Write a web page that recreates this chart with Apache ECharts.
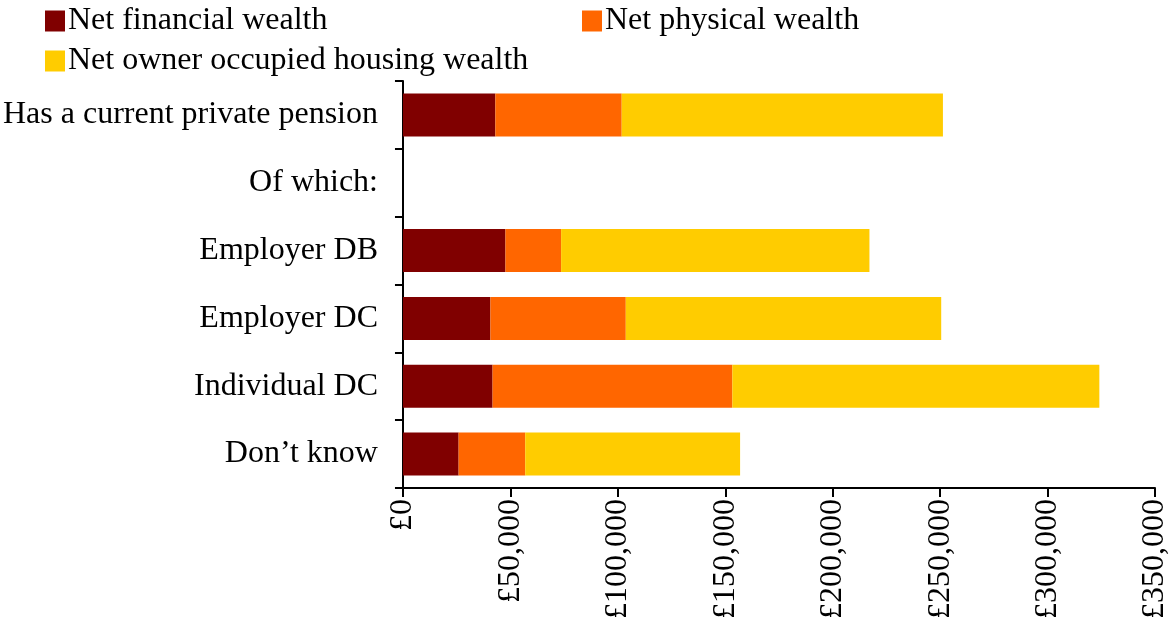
<!DOCTYPE html>
<html>
<head>
<meta charset="utf-8">
<script src="https://cdn.jsdelivr.net/npm/echarts@6/dist/echarts.min.js"></script>
<style>
html, body { margin: 0; padding: 0; background: #fff; }
#chart { width: 1171px; height: 635px; }
</style>
</head>
<body>
<div id="chart"></div>
<script>
"use strict";

var categories = ["Has a current private pension", "Of which:", "Employer DB", "Employer DC", "Individual DC", "Don\u2019t know"];
var financial = [43000, null, 47700, 40700, 41700, 25900];
var physical = [58800, null, 25900, 63000, 111600, 31000];
var housing = [149500, null, 143500, 146800, 170800, 100000];
var seriesNames = ["Net financial wealth", "Net physical wealth", "Net owner occupied housing wealth"];
var colors = ["#800000", "#FF6600", "#FFCC00"];

var font = "'Liberation Serif', 'Times New Roman', serif";
var chart = echarts.init(document.getElementById("chart"));

function fmt(v) {
    return "£" + String(v).replace(/\B(?=(\d{3})+(?!\d))/g, ",");
}

function legendAt(i, left, top) {
    return {
        data: [seriesNames[i]],
        left: left,
        top: top,
        itemWidth: 20,
        itemHeight: 21,
        itemGap: 0,
        icon: "rect",
        textStyle: { fontFamily: font, fontSize: 32, color: "#000", padding: [0, 0, 0, -2] }
    };
}

var option = {
    animation: false,
    backgroundColor: "#fff",
    legend: [legendAt(0, 40, 0), legendAt(1, 577, 0), legendAt(2, 40, 40)],
    grid: { left: 402, right: 13, top: 81, bottom: 147, containLabel: false },
    xAxis: {
        type: "value",
        min: 0,
        max: 350000,
        interval: 50000,
        splitLine: { show: false },
        axisLine: { show: true, lineStyle: { color: "#000", width: 2 } },
        axisTick: { show: true, length: 9, lineStyle: { color: "#000", width: 2 } },
        axisLabel: {
            rotate: 90,
            margin: 11,
            formatter: fmt,
            fontFamily: font,
            fontSize: 32,
            color: "#000"
        }
    },
    yAxis: {
        type: "category",
        inverse: true,
        data: categories,
        axisLine: { show: true, lineStyle: { color: "#000", width: 2 } },
        axisTick: { show: true, length: 8, lineStyle: { color: "#000", width: 2 } },
        axisLabel: { margin: 25, fontFamily: font, fontSize: 32, color: "#000" }
    },
    series: [financial, physical, housing].map(function(d, i) {
        return {
            name: seriesNames[i],
            type: "bar",
            stack: "w",
            data: d,
            barWidth: 43,
            itemStyle: { color: colors[i] }
        };
    })
};

chart.setOption(option);
</script>
</body>
</html>
